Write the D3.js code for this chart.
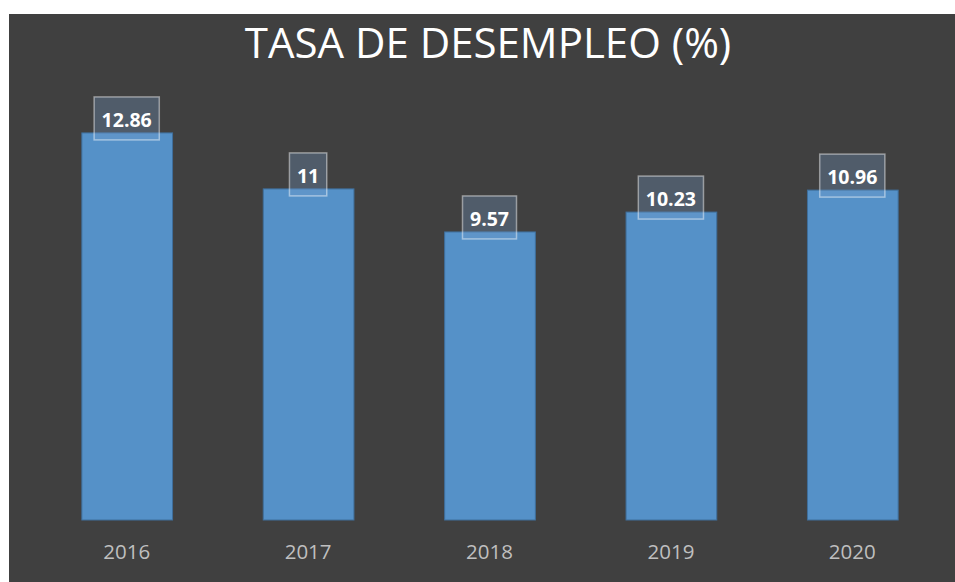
<!DOCTYPE html>
<html>
<head>
<meta charset="utf-8">
<script src="https://cdn.jsdelivr.net/npm/d3@7"></script>
<style>
  body { margin: 0; background: #ffffff; }
</style>
</head>
<body>
<div id="chart-area"></div>
<script>
// data
var years = ["2016", "2017", "2018", "2019", "2020"];
var rates = [12.86, 11, 9.57, 10.23, 10.96];
var title = "TASA DE DESEMPLEO (%)";

var W = 955, H = 582;
var margin = { left: 36, right: 10, top: 98, bottom: 62 };
var height = H - margin.top - margin.bottom; // baseline at 520

var svg = d3.select("#chart-area").append("svg")
    .attr("width", W)
    .attr("height", H);

// dark chart panel
svg.append("rect")
    .attr("x", 9)
    .attr("y", 14)
    .attr("width", W - 9)
    .attr("height", H - 14)
    .attr("fill", "#404040");

svg.append("text")
    .attr("x", 488)
    .attr("y", 58)
    .attr("text-anchor", "middle")
    .attr("font-family", "Open Sans")
    .attr("font-size", "42px")
    .style("fill", "#ffffff")
    .text(title);

var g = svg.append("g").attr("transform", "translate(" + margin.left + ", " + margin.top + ")");

var x = d3.scaleBand()
    .domain(years)
    .range([0, 907])
    .paddingInner(0.5)
    .paddingOuter(0.25);

var y = d3.scaleLinear()
    .domain([0, 14])
    .range([height, height - 14 * 30.1]);

// bars
g.selectAll("rect.bar")
    .data(years)
    .enter().append("rect")
    .attr("class", "bar")
    .attr("x", (d) => { return x(d) + 0.5; })
    .attr("y", (d, i) => { return y(rates[i]); })
    .attr("width", x.bandwidth())
    .attr("height", (d, i) => { return height - y(rates[i]); })
    .attr("fill", "#5591c8")
    .attr("stroke", "#3f6f9c")
    .attr("stroke-width", 1);

// x axis (labels only)
var xAxis = d3.axisBottom(x).tickSize(0).tickPadding(0);
var xAxisGroup = g.append("g")
    .attr("transform", "translate(0, " + height + ")")
    .call(xAxis);
xAxisGroup.select(".domain").remove();
xAxisGroup.selectAll("text")
    .attr("dy", "0")
    .attr("y", 39)
    .attr("font-family", "Open Sans")
    .attr("font-size", "20.5px")
    .style("fill", "#bfbfbf");

// data labels
var labels = g.selectAll("g.lbl")
    .data(years)
    .enter().append("g")
    .attr("class", "lbl");

labels.each(function(d, i) {
    var lg = d3.select(this);
    var cx = x(d) + x.bandwidth() / 2;
    var top = y(rates[i]);
    var box = lg.append("rect");
    var txt = lg.append("text")
        .attr("x", cx)
        .attr("y", top - 6)
        .attr("text-anchor", "middle")
        .attr("font-family", "Open Sans")
        .attr("font-weight", "bold")
        .attr("font-size", "19.5px")
        .style("fill", "#ffffff")
        .text(rates[i]);
    var w = txt.node().getComputedTextLength() + 15;
    box.attr("x", cx - w / 2)
        .attr("y", top - 36)
        .attr("width", w)
        .attr("height", 43)
        .attr("fill", "rgba(120,160,205,0.3)")
        .attr("stroke", "rgba(255,255,255,0.45)")
        .attr("stroke-width", 1.5);
});
</script>
</body>
</html>
